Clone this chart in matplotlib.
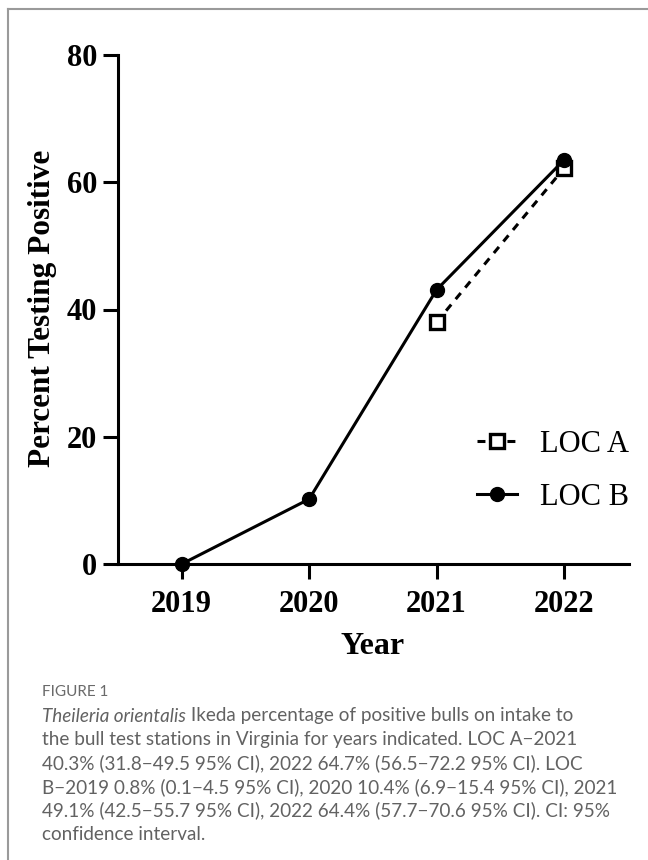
import numpy as np
import matplotlib
matplotlib.use("Agg")
import matplotlib.pyplot as plt
from matplotlib.lines import Line2D

# Survey years and percentage of bulls testing positive
years = [2019, 2020, 2021, 2022]
loc_a = [np.nan, np.nan, 38.0, 62.2]
loc_b = [0.0, 10.2, 43.1, 63.5]
series_names = ["LOC A", "LOC B"]
y_ticks = [0, 20, 40, 60, 80]

caption_label = "FIGURE 1"
caption_italic = "Theileria orientalis"
caption_lines = [
    " Ikeda percentage of positive bulls on intake to",
    "the bull test stations in Virginia for years indicated. LOC A\u22122021",
    "40.3% (31.8\u221249.5 95% CI), 2022 64.7% (56.5\u221272.2 95% CI). LOC",
    "B\u22122019 0.8% (0.1\u22124.5 95% CI), 2020 10.4% (6.9\u221215.4 95% CI), 2021",
    "49.1% (42.5\u221255.7 95% CI), 2022 64.4% (57.7\u221270.6 95% CI). CI: 95%",
    "confidence interval.",
]

W, H = 648, 860
fig = plt.figure(figsize=(W / 100, H / 100), dpi=100)
fig.patch.set_facecolor("white")

serif = ["Liberation Serif", "DejaVu Serif"]
LW = 2.2

ax = fig.add_axes([118 / W, 1 - 564 / H, 511 / W, 509 / H])
ax.set_xlim(2018.5, 2022.51)
ax.set_ylim(0, 80)

line_a, = ax.plot(years, loc_a, color="black", lw=LW, linestyle=(0, (2.6, 2.3)),
                  marker="s", markersize=10, markerfacecolor="white",
                  markeredgecolor="black", markeredgewidth=2.4, clip_on=False,
                  zorder=3, label=series_names[0])
line_b, = ax.plot(years, loc_b, color="black", lw=LW, linestyle="-",
                  marker="o", markersize=10, markerfacecolor="black",
                  markeredgecolor="black", markeredgewidth=1, clip_on=False,
                  zorder=4, label=series_names[1])

for side in ("top", "right"):
    ax.spines[side].set_visible(False)
for side in ("left", "bottom"):
    ax.spines[side].set_linewidth(LW)

ax.set_xticks(years)
ax.set_yticks(y_ticks)
ax.tick_params(axis="both", direction="out", length=11, width=LW)
ax.tick_params(axis="y", pad=4)
ax.tick_params(axis="x", pad=8)
for lab in ax.get_xticklabels() + ax.get_yticklabels():
    lab.set_fontfamily(serif)
    lab.set_fontweight("bold")
    lab.set_fontsize(22)

fig.text(43 / W, 1 - 308 / H, "Percent Testing Positive", rotation=90,
         ha="center", va="center", family=serif, weight="bold", fontsize=22.5)
fig.text(373 / W, 1 - 647 / H, "Year", ha="center", va="center",
         family=serif, weight="bold", fontsize=23)

leg = ax.legend(handles=[line_a, line_b], loc="center left",
                bbox_to_anchor=(477 / W, 1 - 471 / H),
                bbox_transform=fig.transFigure, frameon=False,
                prop={"family": serif, "size": 22},
                handlelength=1.3, handletextpad=0.75, labelspacing=0.78,
                borderpad=0, borderaxespad=0)

# Panel border (top and left edges)
fig.add_artist(Line2D([8 / W, 8 / W], [0, 1 - 9 / H], transform=fig.transFigure,
                      color="#9a9a9a", lw=1.5))
fig.add_artist(Line2D([8 / W, 1], [1 - 9 / H, 1 - 9 / H], transform=fig.transFigure,
                      color="#9a9a9a", lw=1.5))

# Caption
cap_font = ["Lato", "Open Sans", "DejaVu Sans"]
gray = "#626262"
x0 = 42 / W
cap_size = 13.6
fig.text(x0, 1 - 692 / H, caption_label, ha="left", va="center",
         family=cap_font, fontsize=11, color="#6a6a6a", weight="normal")

line_y = [716, 740, 763.5, 787, 810.5, 834]
fig.canvas.draw()
renderer = fig.canvas.get_renderer()
t_it = fig.text(x0, 1 - line_y[0] / H, caption_italic, ha="left", va="center",
                family=cap_font, fontsize=cap_size, color=gray, style="italic")
bb = t_it.get_window_extent(renderer=renderer)
fig.text(bb.x1 / W, 1 - line_y[0] / H, caption_lines[0], ha="left", va="center",
         family=cap_font, fontsize=cap_size, color=gray)
for yy, txt in zip(line_y[1:], caption_lines[1:]):
    fig.text(x0, 1 - yy / H, txt, ha="left", va="center",
             family=cap_font, fontsize=cap_size, color=gray)

fig.savefig("out.png", dpi=100, facecolor="white")
